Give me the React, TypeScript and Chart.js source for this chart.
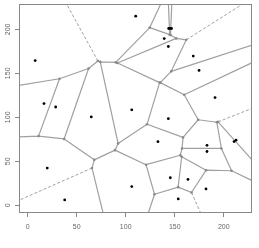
import React, { useEffect, useRef } from "react";
import { Chart, registerables } from "chart.js";

Chart.register(...registerables);

// Data points (sites of the Voronoi tessellation)
const siteX = [7.7, 16.7, 28.6, 64.9, 110.2, 143.86, 145.29, 146.72, 139.3, 143.5, 168.9, 174.8, 191.1, 106.2, 143.5, 132.9, 182.9, 182.9, 210.5, 212.5, 20.0, 37.8, 106.2, 145.5, 163.5, 181.9, 153.6];
const siteY = [164.5, 115.6, 111.7, 100.4, 215.0, 200.95, 201.0, 200.95, 189.5, 180.5, 169.6, 153.3, 122.4, 108.5, 98.4, 72.3, 68.1, 61.1, 72.4, 74.0, 42.3, 6.1, 21.2, 31.3, 29.4, 18.6, 7.2];

const xTicks = [0, 50, 100, 150, 200];
const yTicks = [0, 50, 100, 150, 200];
const xRange = [-8.8, 228.8];
const yRange = [-8.8, 228.8];

type Tri = { a: number; b: number; c: number; x: number; y: number; r2: number };

function triangulate(px: number[], py: number[]): Tri[] {
  const n = px.length;
  const X = px.slice();
  const Y = py.slice();
  const big = 1e5;
  X.push(-big, big, 110);
  Y.push(-big, -big, big);
  const make = (a: number, b: number, c: number): Tri => {
    const ax = X[a], ay = Y[a], bx = X[b], by = Y[b], cx = X[c], cy = Y[c];
    const d = 2 * (ax * (by - cy) + bx * (cy - ay) + cx * (ay - by));
    const a2 = ax * ax + ay * ay, b2 = bx * bx + by * by, c2 = cx * cx + cy * cy;
    const ux = (a2 * (by - cy) + b2 * (cy - ay) + c2 * (ay - by)) / d;
    const uy = (a2 * (cx - bx) + b2 * (ax - cx) + c2 * (bx - ax)) / d;
    return { a, b, c, x: ux, y: uy, r2: (ax - ux) ** 2 + (ay - uy) ** 2 };
  };
  let tris: Tri[] = [make(n, n + 1, n + 2)];
  for (let i = 0; i < n; i++) {
    const bad: Tri[] = [];
    const keep: Tri[] = [];
    for (const t of tris) {
      const dx = X[i] - t.x, dy = Y[i] - t.y;
      if (dx * dx + dy * dy < t.r2) bad.push(t);
      else keep.push(t);
    }
    const edges = new Map<string, [number, number, number]>();
    for (const t of bad) {
      const es: [number, number][] = [[t.a, t.b], [t.b, t.c], [t.c, t.a]];
      for (const [u, v] of es) {
        const k = u < v ? u + "," + v : v + "," + u;
        const e = edges.get(k);
        if (e) e[2]++;
        else edges.set(k, [u, v, 1]);
      }
    }
    for (const [u, v, c] of edges.values()) if (c === 1) keep.push(make(u, v, i));
    tris = keep;
  }
  return tris.filter((t) => t.a < n && t.b < n && t.c < n);
}

function voronoi(px: number[], py: number[]) {
  const tris = triangulate(px, py);
  const edgeMap = new Map<string, { u: number; v: number; t: number[] }>();
  tris.forEach((t, ti) => {
    const es: [number, number][] = [[t.a, t.b], [t.b, t.c], [t.c, t.a]];
    for (const [u, v] of es) {
      const k = u < v ? u + "," + v : v + "," + u;
      const e = edgeMap.get(k);
      if (e) e.t.push(ti);
      else edgeMap.set(k, { u, v, t: [ti] });
    }
  });
  const gap = { x: NaN, y: null as any };
  const closed: any[] = [];
  const open: any[] = [];
  for (const e of edgeMap.values()) {
    if (e.t.length === 2) {
      const t1 = tris[e.t[0]], t2 = tris[e.t[1]];
      closed.push({ x: t1.x, y: t1.y }, { x: t2.x, y: t2.y }, gap);
    } else {
      const t = tris[e.t[0]];
      const third = t.a + t.b + t.c - e.u - e.v;
      let dx = -(py[e.v] - py[e.u]);
      let dy = px[e.v] - px[e.u];
      if (dx * (px[third] - px[e.u]) + dy * (py[third] - py[e.u]) > 0) {
        dx = -dx;
        dy = -dy;
      }
      const L = Math.hypot(dx, dy);
      open.push({ x: t.x, y: t.y }, { x: t.x + (dx / L) * 3000, y: t.y + (dy / L) * 3000 }, gap);
    }
  }
  const verts = tris.map((t) => ({ x: t.x, y: t.y }));
  return { closed, open, verts };
}

const boxPlugin = {
  id: "plotBox",
  afterDraw(chart: any) {
    const { ctx, chartArea } = chart;
    const { left, top, right, bottom } = chartArea;
    ctx.save();
    ctx.strokeStyle = "#888";
    ctx.lineWidth = 1;
    ctx.strokeRect(left + 0.5, top + 0.5, right - left - 1, bottom - top - 1);
    ctx.restore();
  },
};

export default function App() {
  const ref = useRef<HTMLCanvasElement>(null);
  useEffect(() => {
    if (!ref.current) return;
    const { closed, open, verts } = voronoi(siteX, siteY);
    const sites = siteX.map((x, i) => ({ x, y: siteY[i] }));
    const font = { family: "Liberation Sans", size: 7 };
    const chart = new Chart(ref.current, {
      type: "scatter",
      data: {
        datasets: [
          { label: "sites", data: sites, pointRadius: 1.4, pointBackgroundColor: "#000", pointBorderWidth: 0, showLine: false, clip: 0 } as any,
          { label: "vertices", data: verts, pointRadius: 1.3, pointBackgroundColor: "#8a8a8a", pointBorderWidth: 0, showLine: false, clip: 0 } as any,
          { label: "edges", data: closed, showLine: true, borderColor: "#a0a0a0", borderWidth: 1.2, pointRadius: 0, spanGaps: false, clip: 0 } as any,
          { label: "open", data: open, showLine: true, borderColor: "#a0a0a0", borderWidth: 1, borderDash: [3, 2], pointRadius: 0, spanGaps: false, clip: 0 } as any,
        ],
      },
      options: {
        animation: false,
        responsive: false,
        devicePixelRatio: 1,
        events: [],
        layout: { padding: { top: 3, right: 7, left: 0, bottom: 0 } },
        plugins: { legend: { display: false }, tooltip: { enabled: false } },
        scales: {
          x: {
            type: "linear",
            min: xRange[0],
            max: xRange[1],
            afterBuildTicks: (s: any) => {
              s.ticks = xTicks.map((v) => ({ value: v }));
            },
            afterFit: (s: any) => {
              s.height = 35;
              s.paddingLeft = 0;
              s.paddingRight = 0;
            },
            grid: { drawOnChartArea: false, drawTicks: true, tickLength: 4, color: "#888" },
            border: { display: false },
            ticks: { font, color: "#666", padding: 6, autoSkip: false, maxRotation: 0, minRotation: 0, callback: (v: any) => String(v) },
          },
          y: {
            type: "linear",
            min: yRange[0],
            max: yRange[1],
            afterBuildTicks: (s: any) => {
              s.ticks = yTicks.map((v) => ({ value: v }));
            },
            afterFit: (s: any) => {
              s.width = 19;
              s.paddingTop = 0;
              s.paddingBottom = 0;
            },
            grid: { drawOnChartArea: false, drawTicks: true, tickLength: 4, color: "#888" },
            border: { display: false },
            ticks: { font, color: "#666", padding: 1, autoSkip: false, minRotation: 90, maxRotation: 90, crossAlign: "center", callback: (v: any) => String(v) },
          },
        },
      } as any,
      plugins: [boxPlugin],
    });
    return () => chart.destroy();
  }, []);
  return (
    <div style={{ position: "fixed", left: 0, top: 0, width: 259, height: 248, background: "#fff" }}>
      <canvas ref={ref} width={259} height={248} style={{ display: "block" }} />
    </div>
  );
}
